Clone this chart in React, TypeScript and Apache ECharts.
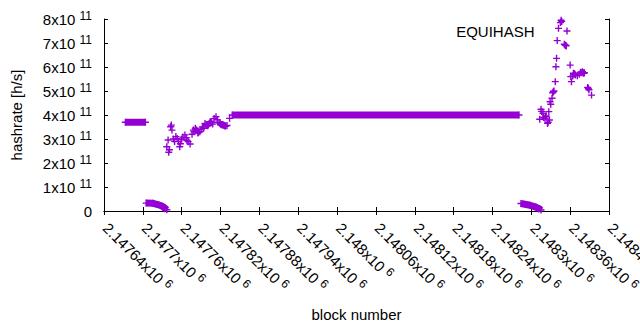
import React, { useEffect, useRef } from 'react';
import * as echarts from 'echarts';

// ---- axis ticks ----
const blockMin = 2147640;
const blockMax = 2148420;
const blockStep = 60;
const rateMin = 0;
const rateMax = 8e11;
const rateStep = 1e11;

// ---- constant runs (dense blocks with same rate, drawn as solid bands) ----
const run1Blocks = [2147673, 2147704];
const run1Rate = [3.7e11, 3.7e11];
const run2Blocks = [2147705, 2147716, 2147723, 2147730, 2147734, 2147737];
const run2Rate = [0.33e11, 0.32e11, 0.27e11, 0.2e11, 0.12e11, 0.05e11];
const run3Blocks = [2147838, 2148281];
const run3Rate = [4.0e11, 4.0e11];
const run4Blocks = [2148284, 2148298, 2148307, 2148312, 2148315];
const run4Rate = [0.31e11, 0.24e11, 0.16e11, 0.1e11, 0.04e11];

// ---- scattered blocks ----
const climbBlocks = [
  2147737, 2147739, 2147740, 2147741, 2147743, 2147744, 2147745, 2147747, 2147749, 2147751,
  2147753, 2147755, 2147757, 2147758, 2147760, 2147762, 2147765, 2147767, 2147768, 2147770,
  2147773, 2147776, 2147778, 2147779, 2147781, 2147782, 2147783, 2147785, 2147786, 2147788,
  2147790, 2147792, 2147794, 2147796, 2147798, 2147800, 2147801, 2147802, 2147803, 2147804,
  2147805, 2147806, 2147808, 2147810, 2147813, 2147815, 2147816, 2147819, 2147820, 2147821,
  2147822, 2147823, 2147824, 2147825, 2147826, 2147827, 2147828, 2147830, 2147834,
];
const climbRate = [
  2.68e11, 2.96e11, 2.45e11, 2.55e11, 3.51e11, 3.58e11, 3.37e11, 3.0e11, 2.9e11, 3.1e11,
  3.02e11, 2.89e11, 2.68e11, 2.8e11, 2.99e11, 3.08e11, 3.17e11, 3.05e11, 2.95e11, 2.89e11,
  2.79e11, 3.2e11, 3.37e11, 3.3e11, 3.45e11, 3.4e11, 3.35e11, 3.25e11, 3.28e11, 3.3e11,
  3.4e11, 3.5e11, 3.45e11, 3.65e11, 3.6e11, 3.55e11, 3.58e11, 3.62e11, 3.66e11, 3.72e11,
  3.7e11, 3.68e11, 3.62e11, 3.85e11, 3.93e11, 3.8e11, 3.7e11, 3.65e11, 3.62e11, 3.6e11,
  3.58e11, 3.6e11, 3.58e11, 3.57e11, 3.55e11, 3.55e11, 3.54e11, 3.56e11, 3.86e11,
];
const surgeBlocks = [
  2148313, 2148315, 2148316, 2148318, 2148319, 2148321, 2148322, 2148323, 2148325, 2148326,
  2148327, 2148328, 2148329, 2148330, 2148332, 2148333, 2148334, 2148335, 2148337, 2148338,
  2148339, 2148340, 2148342, 2148345, 2148346, 2148347, 2148351, 2148352, 2148353, 2148354,
  2148360, 2148361, 2148362, 2148364, 2148365, 2148366, 2148367, 2148368, 2148371, 2148374,
  2148376, 2148378, 2148379, 2148380, 2148381, 2148382, 2148387, 2148388, 2148389, 2148393,
];
const surgeRate = [
  3.82e11, 4.24e11, 4.15e11, 4.07e11, 3.9e11, 3.86e11, 3.93e11, 3.96e11, 3.65e11, 3.7e11,
  4.14e11, 3.79e11, 4.55e11, 4.45e11, 4.7e11, 4.93e11, 4.97e11, 5.0e11, 5.39e11, 6.01e11,
  6.36e11, 7.1e11, 7.61e11, 7.85e11, 7.95e11, 7.9e11, 6.95e11, 6.92e11, 6.9e11, 6.88e11,
  6.08e11, 5.6e11, 5.39e11, 5.62e11, 5.74e11, 5.7e11, 5.72e11, 5.67e11, 5.64e11, 5.7e11,
  5.78e11, 5.76e11, 5.8e11, 5.76e11, 5.74e11, 5.76e11, 5.15e11, 5.11e11, 5.05e11, 4.83e11,
];

const seriesName = 'EQUIHASH';
const xTitle = 'block number';
const yTitle = 'hashrate [h/s]';

const COLOR = '#9400d3';
const FONT = '"Liberation Sans", Arial, sans-serif';
const PLUS = 'path://M0,2.8H7V4.2H0Z M2.8,0H4.2V7H2.8Z';

const zip = (xs: number[], ys: number[]) => xs.map((x, i) => [x, ys[i]]);

const rich = {
  m: { fontSize: 15, fontFamily: FONT, color: '#000', verticalAlign: 'bottom', lineHeight: 16 },
  e: { fontSize: 12, fontFamily: FONT, color: '#000', verticalAlign: 'bottom', lineHeight: 13, padding: [0, 0, 5, 0] },
};

const xLabel = (v: number) => {
  const m = parseFloat((v / 1e6).toPrecision(6)).toString();
  return `{m|${m}x10 }{e|6}`;
};
const yLabel = (v: number) => {
  if (v === 0) return '0';
  const m = Math.round(v / 1e11);
  return `{m|${m}x10 }{e|11}`;
};

const runSeries = (blocks: number[], rate: number[]) => ({
  type: 'line',
  name: seriesName,
  data: zip(blocks, rate),
  symbol: PLUS,
  symbolSize: 7,
  showSymbol: true,
  showAllSymbol: true,
  itemStyle: { color: COLOR },
  lineStyle: { color: COLOR, width: 7, cap: 'butt' },
  emphasis: { disabled: true },
});

export default function App() {
  const ref = useRef<HTMLDivElement>(null);
  useEffect(() => {
    if (!ref.current) return;
    const chart = echarts.init(ref.current, undefined, { renderer: 'svg' });
    const axisLine = { show: true, lineStyle: { color: '#000', width: 1 } };
    const axisTick = { show: true, inside: true, length: 4, lineStyle: { color: '#000', width: 1 } };
    chart.setOption({
      animation: false,
      backgroundColor: '#fff',
      textStyle: { fontFamily: FONT },
      grid: { left: 104, right: 31, top: 19, bottom: 119, containLabel: false, outerBoundsMode: 'none' },
      legend: {
        // gnuplot-style key: title right-justified, "+" sample to its right
        data: [seriesName],
        right: 69.5,
        top: 23.5,
        padding: 0,
        align: 'right',
        icon: PLUS,
        itemWidth: 7,
        itemHeight: 7,
        selectedMode: false,
        formatter: (name: string) => `{t|${name}}{s|}`,
        textStyle: {
          fontSize: 15,
          fontFamily: FONT,
          color: '#000',
          rich: {
            t: { fontSize: 15, fontFamily: FONT, color: '#000' },
            s: { width: 24, fontSize: 15 },
          },
        },
      },
      xAxis: [
        {
          type: 'value',
          position: 'bottom',
          min: blockMin,
          max: blockMax,
          interval: blockStep,
          axisLine,
          axisTick,
          splitLine: { show: false },
          axisLabel: {
            rotate: -45,
            margin: 12,
            formatter: xLabel,
            rich,
            fontSize: 15,
            color: '#000',
            padding: [0, 0, 0, 3],
          },
          name: xTitle,
          nameLocation: 'middle',
          nameGap: 96,
          nameTextStyle: { fontSize: 15, fontFamily: FONT, color: '#000' },
        },
        {
          type: 'value',
          position: 'top',
          min: blockMin,
          max: blockMax,
          interval: blockStep,
          axisLine,
          axisTick,
          splitLine: { show: false },
          axisLabel: { show: false },
        },
      ],
      yAxis: [
        {
          type: 'value',
          position: 'left',
          min: rateMin,
          max: rateMax,
          interval: rateStep,
          axisLine,
          axisTick,
          splitLine: { show: false },
          axisLabel: {
            margin: 12,
            formatter: yLabel,
            rich,
            fontSize: 15,
            color: '#000',
          },
          name: yTitle,
          nameLocation: 'middle',
          nameGap: 80,
          nameTextStyle: { fontSize: 15, fontFamily: FONT, color: '#000' },
        },
        {
          type: 'value',
          position: 'right',
          min: rateMin,
          max: rateMax,
          interval: rateStep,
          axisLine,
          axisTick,
          splitLine: { show: false },
          axisLabel: { show: false },
        },
      ],
      series: [
        {
          type: 'scatter',
          name: seriesName,
          data: [...zip(climbBlocks, climbRate), ...zip(surgeBlocks, surgeRate)],
          symbol: PLUS,
          symbolSize: 7,
          itemStyle: { color: COLOR, opacity: 1 },
          emphasis: { disabled: true },
        },
        runSeries(run1Blocks, run1Rate),
        runSeries(run2Blocks, run2Rate),
        runSeries(run3Blocks, run3Rate),
        runSeries(run4Blocks, run4Rate),
      ],
    });
    return () => chart.dispose();
  }, []);
  return (
    <div
      ref={ref}
      style={{ position: 'fixed', left: 0, top: 0, width: 640, height: 330, background: '#fff' }}
    />
  );
}
